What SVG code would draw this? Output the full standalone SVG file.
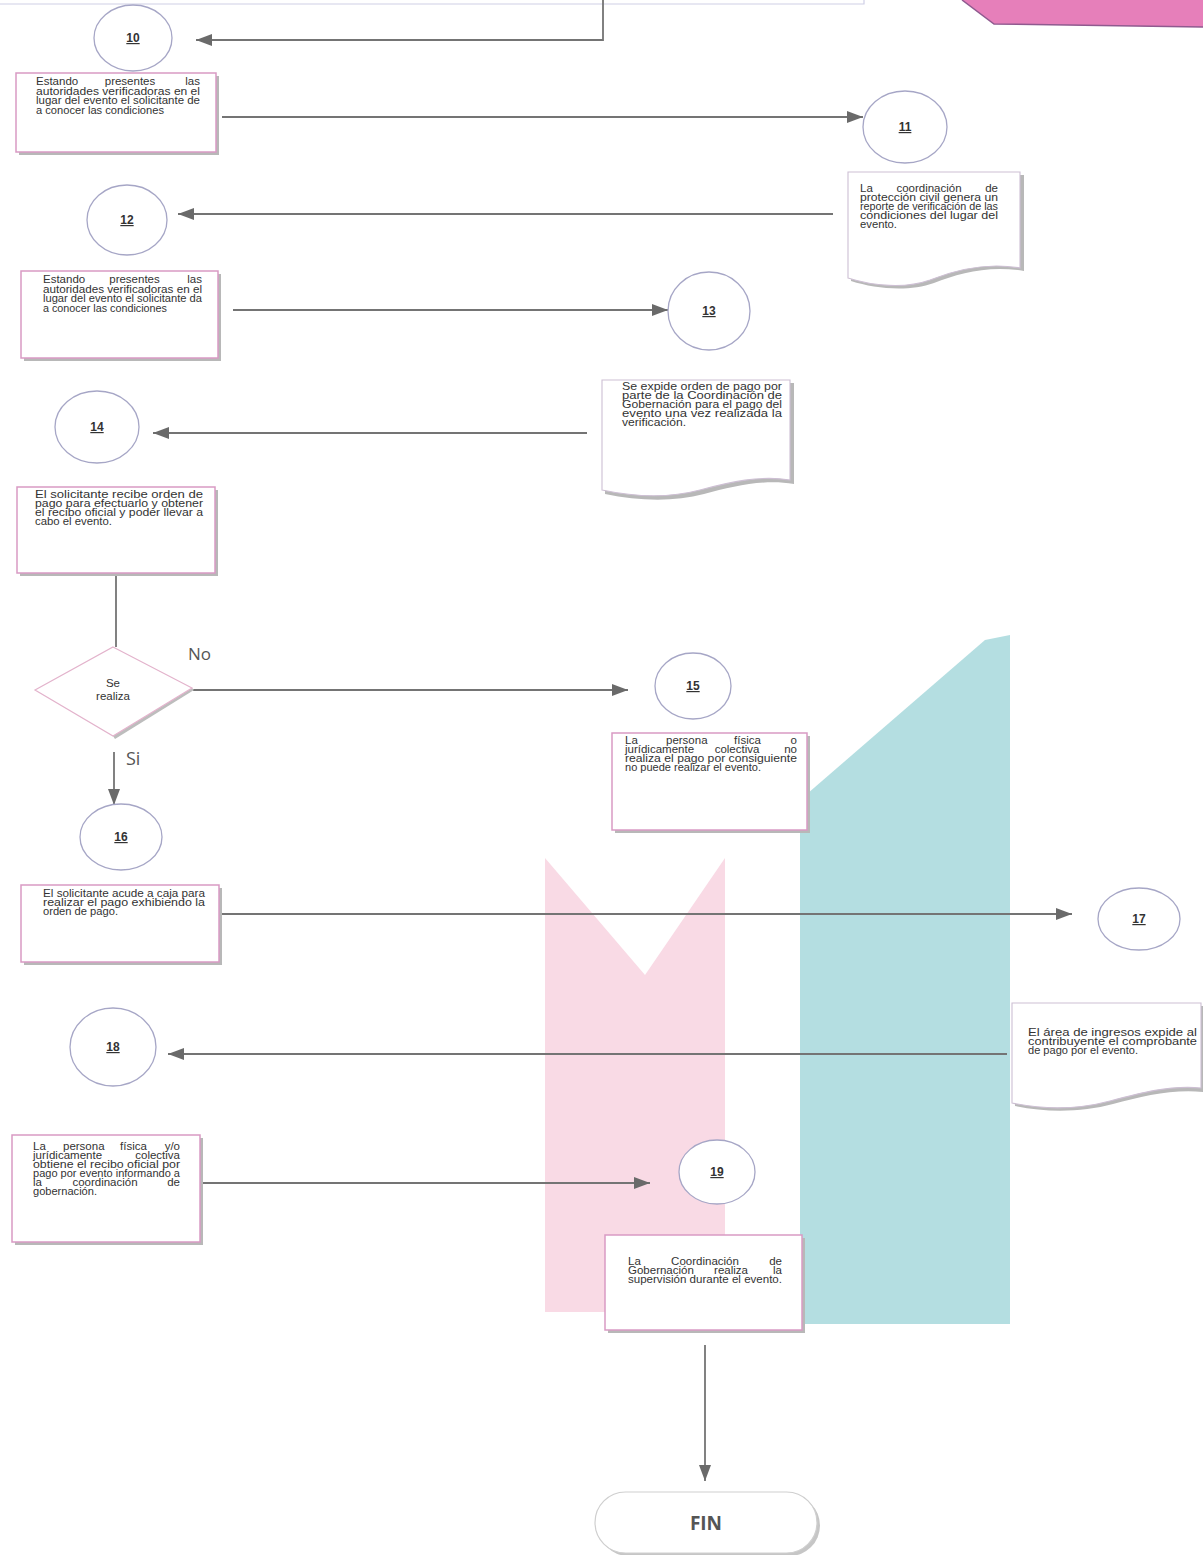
<svg xmlns="http://www.w3.org/2000/svg" width="1203" height="1555" viewBox="0 0 1203 1555">
  <defs>
    <style>
      .ln { fill: none; stroke: #747474; stroke-width: 1.8; }
      .box { fill: #fff; stroke: #d99ac4; stroke-width: 1.5; }
      .shd { fill: #b8b8b8; }
      .doc { fill: #fff; stroke: #cdbfd3; stroke-width: 1.1; }
      .circ { fill: #fff; stroke: #a6a6c6; stroke-width: 1.3; }
      .t { font-family: "Liberation Sans", Arial, sans-serif; font-size: 11.5px; fill: #333; }
      .m { text-anchor: middle; }
      .e { text-anchor: end; }
      .num { font-family: "Liberation Sans", Arial, sans-serif; font-size: 12px; font-weight: bold; fill: #333; text-decoration: underline; text-anchor: middle; }
      .lbl { font-family: "Open Sans", "Liberation Sans", sans-serif; fill: #555; }
    </style>
    <marker id="arr" markerUnits="userSpaceOnUse" viewBox="0 0 16 12" markerWidth="16" markerHeight="12" refX="16" refY="6" orient="auto">
      <path d="M0,0 L16,6 L0,12 Z" fill="#6a6a6a"/>
    </marker>
  </defs>

  <rect width="1203" height="1555" fill="#fff"/>

  <!-- background bands -->
  <polygon points="545,858 645,975 725,858 725,1312 545,1312" fill="#f9dae5"/>
  <polygon points="800,800 985,640 1010,635 1010,1324 800,1324" fill="#b4dee1"/>

  <!-- edge of the previous sheet and header tab -->
  <path d="M0,4 H864 V0" fill="none" stroke="#cfcfe6" stroke-width="1.2"/>
  <polygon points="962,0 994,24 1203,27 1203,0" fill="#e67fba"/>
  <polyline points="962,0 994,24 1203,27" fill="none" stroke="#8f5a8f" stroke-width="1.5"/>

  <!-- connectors -->
  <g id="connectors">
    <path class="ln" d="M603,0 V40 H196" marker-end="url(#arr)"/>
    <path class="ln" d="M222,117 H863" marker-end="url(#arr)"/>
    <path class="ln" d="M833,214 H178" marker-end="url(#arr)"/>
    <path class="ln" d="M233,310 H668" marker-end="url(#arr)"/>
    <path class="ln" d="M587,433 H153" marker-end="url(#arr)"/>
    <path class="ln" d="M116,573 V647"/>
    <path class="ln" d="M193,690 H628" marker-end="url(#arr)"/>
    <path class="ln" d="M114,752 V805" marker-end="url(#arr)"/>
    <path class="ln" d="M220,914 H1072" marker-end="url(#arr)"/>
    <path class="ln" d="M1007,1054 H168" marker-end="url(#arr)"/>
    <path class="ln" d="M202,1183 H650" marker-end="url(#arr)"/>
    <path class="ln" d="M705,1345 V1481" marker-end="url(#arr)"/>
    <text class="lbl" x="188" y="660" font-size="17">No</text>
    <text class="lbl" x="126" y="765" font-size="18">Si</text>
  </g>

  <!-- step 10 -->
  <g id="c10">
    <ellipse class="circ" cx="133" cy="38" rx="39" ry="33"/>
    <text class="num" x="133" y="42">10</text>
  </g>
  <g id="b10">
    <rect class="shd" x="19" y="76" width="200" height="79"/>
    <rect class="box" x="16" y="73" width="200" height="79"/>
    <text class="t" x="36" y="85">Estando</text>
    <text class="t m" x="130" y="85">presentes</text>
    <text class="t e" x="200" y="85">las</text>
    <text class="t" x="36" y="94.5" textLength="164" lengthAdjust="spacingAndGlyphs">autoridades verificadoras en el</text>
    <text class="t" x="36" y="104" textLength="164" lengthAdjust="spacingAndGlyphs">lugar del evento el solicitante de</text>
    <text class="t" x="36" y="113.5" textLength="128" lengthAdjust="spacingAndGlyphs">a conocer las condiciones</text>
  </g>

  <!-- step 11 -->
  <g id="c11">
    <ellipse class="circ" cx="905" cy="127" rx="42" ry="36"/>
    <text class="num" x="905" y="131">11</text>
  </g>
  <g id="d11">
    <path class="shd" d="M851,175 H1024 V271 C989,265 959,273 934,283 C909,292 876,289 851,281 Z"/>
    <path class="doc" d="M848,172 H1020 V268 C985,262 955,270 930,280 C905,289 873,286 848,278 Z"/>
    <text class="t" x="860" y="192">La</text>
    <text class="t m" x="929" y="192">coordinación</text>
    <text class="t e" x="998" y="192">de</text>
    <text class="t" x="860" y="201" textLength="138" lengthAdjust="spacingAndGlyphs">protección civil genera un</text>
    <text class="t" x="860" y="210" textLength="138" lengthAdjust="spacingAndGlyphs">reporte de verificación de las</text>
    <text class="t" x="860" y="219" textLength="138" lengthAdjust="spacingAndGlyphs">condiciones del lugar del</text>
    <text class="t" x="860" y="228" textLength="37" lengthAdjust="spacingAndGlyphs">evento.</text>
  </g>

  <!-- step 12 -->
  <g id="c12">
    <ellipse class="circ" cx="127" cy="220" rx="40" ry="35"/>
    <text class="num" x="127" y="224">12</text>
  </g>
  <g id="b12">
    <rect class="shd" x="24" y="274" width="197" height="87"/>
    <rect class="box" x="21" y="271" width="197" height="87"/>
    <text class="t" x="43" y="283">Estando</text>
    <text class="t m" x="134.5" y="283">presentes</text>
    <text class="t e" x="202" y="283">las</text>
    <text class="t" x="43" y="292.7" textLength="159" lengthAdjust="spacingAndGlyphs">autoridades verificadoras en el</text>
    <text class="t" x="43" y="302.4" textLength="159" lengthAdjust="spacingAndGlyphs">lugar del evento el solicitante da</text>
    <text class="t" x="43" y="312" textLength="124" lengthAdjust="spacingAndGlyphs">a conocer las condiciones</text>
  </g>

  <!-- step 13 -->
  <g id="c13">
    <ellipse class="circ" cx="709" cy="311" rx="41" ry="39"/>
    <text class="num" x="709" y="315">13</text>
  </g>
  <g id="d13">
    <path class="shd" d="M605,383 H794 V484 C764,479 734,486 704,494 C674,502 639,501 605,494 Z"/>
    <path class="doc" d="M602,380 H790 V480 C760,475 730,482 700,490 C670,498 635,497 602,490 Z"/>
    <text class="t" x="622" y="390" textLength="160" lengthAdjust="spacingAndGlyphs">Se expide orden de pago por</text>
    <text class="t" x="622" y="399" textLength="160" lengthAdjust="spacingAndGlyphs">parte de la Coordinación de</text>
    <text class="t" x="622" y="408" textLength="160" lengthAdjust="spacingAndGlyphs">Gobernación para el pago del</text>
    <text class="t" x="622" y="417" textLength="160" lengthAdjust="spacingAndGlyphs">evento una vez realizada la</text>
    <text class="t" x="622" y="426" textLength="64" lengthAdjust="spacingAndGlyphs">verificación.</text>
  </g>

  <!-- step 14 -->
  <g id="c14">
    <ellipse class="circ" cx="97" cy="427" rx="42" ry="36"/>
    <text class="num" x="97" y="431">14</text>
  </g>
  <g id="b14">
    <rect class="shd" x="20" y="490" width="198" height="86"/>
    <rect class="box" x="17" y="487" width="198" height="86"/>
    <text class="t" x="35" y="498" textLength="168" lengthAdjust="spacingAndGlyphs">El solicitante recibe orden de</text>
    <text class="t" x="35" y="507" textLength="168" lengthAdjust="spacingAndGlyphs">pago para efectuarlo y obtener</text>
    <text class="t" x="35" y="516" textLength="168" lengthAdjust="spacingAndGlyphs">el recibo oficial y poder llevar a</text>
    <text class="t" x="35" y="525" textLength="77" lengthAdjust="spacingAndGlyphs">cabo el evento.</text>
  </g>

  <!-- decision -->
  <g id="decision">
    <polygon points="194,690 115,739 113,736 192,688" fill="#bdbdbd"/>
    <polygon points="113,647 192,688 113,736 35,690" fill="#fff" stroke="#e3b3cc" stroke-width="1.2"/>
    <text class="t m" x="113" y="687" fill="#555" font-size="10.5">Se</text>
    <text class="t m" x="113" y="700" fill="#555" font-size="10.5">realiza</text>
  </g>

  <!-- step 15 -->
  <g id="c15">
    <ellipse class="circ" cx="693" cy="686" rx="38" ry="33"/>
    <text class="num" x="693" y="690">15</text>
  </g>
  <g id="b15">
    <rect class="shd" x="615" y="736" width="195" height="97"/>
    <rect class="box" x="612" y="733" width="195" height="97"/>
    <text class="t" x="625" y="744">La</text>
    <text class="t" x="666" y="744">persona</text>
    <text class="t" x="734" y="744">física</text>
    <text class="t e" x="797" y="744">o</text>
    <text class="t" x="625" y="753">jurídicamente</text>
    <text class="t m" x="737" y="753">colectiva</text>
    <text class="t e" x="797" y="753">no</text>
    <text class="t" x="625" y="762" textLength="172" lengthAdjust="spacingAndGlyphs">realiza el pago por consiguiente</text>
    <text class="t" x="625" y="771" textLength="136" lengthAdjust="spacingAndGlyphs">no puede realizar el evento.</text>
  </g>

  <!-- step 16 -->
  <g id="c16">
    <ellipse class="circ" cx="121" cy="837" rx="41" ry="33"/>
    <text class="num" x="121" y="841">16</text>
  </g>
  <g id="b16">
    <rect class="shd" x="24" y="888" width="198" height="77"/>
    <rect class="box" x="21" y="885" width="198" height="77"/>
    <text class="t" x="43" y="897" textLength="162" lengthAdjust="spacingAndGlyphs">El solicitante acude a caja para</text>
    <text class="t" x="43" y="906" textLength="162" lengthAdjust="spacingAndGlyphs">realizar el pago exhibiendo la</text>
    <text class="t" x="43" y="915" textLength="75" lengthAdjust="spacingAndGlyphs">orden de pago.</text>
  </g>

  <!-- step 17 -->
  <g id="c17">
    <ellipse class="circ" cx="1139" cy="919" rx="41" ry="31"/>
    <text class="num" x="1139" y="923">17</text>
  </g>
  <g id="d17">
    <path class="shd" d="M1015,1006 H1203 V1092 C1173,1089 1143,1096 1113,1104 C1083,1112 1048,1113 1015,1106 Z"/>
    <path class="doc" d="M1012,1003 H1201 V1088 C1170,1085 1140,1093 1110,1101 C1080,1109 1045,1110 1012,1103 Z"/>
    <text class="t" x="1028" y="1036" textLength="169" lengthAdjust="spacingAndGlyphs">El área de ingresos expide al</text>
    <text class="t" x="1028" y="1045" textLength="169" lengthAdjust="spacingAndGlyphs">contribuyente el comprobante</text>
    <text class="t" x="1028" y="1054" textLength="110" lengthAdjust="spacingAndGlyphs">de pago por el evento.</text>
  </g>

  <!-- step 18 -->
  <g id="c18">
    <ellipse class="circ" cx="113" cy="1047" rx="43" ry="39"/>
    <text class="num" x="113" y="1051">18</text>
  </g>
  <g id="b18">
    <rect class="shd" x="15" y="1138" width="188" height="107"/>
    <rect class="box" x="12" y="1135" width="188" height="107"/>
    <text class="t" x="33" y="1150">La</text>
    <text class="t" x="63" y="1150">persona</text>
    <text class="t" x="120" y="1150">física</text>
    <text class="t e" x="180" y="1150">y/o</text>
    <text class="t" x="33" y="1159">jurídicamente</text>
    <text class="t e" x="180" y="1159">colectiva</text>
    <text class="t" x="33" y="1168" textLength="147" lengthAdjust="spacingAndGlyphs">obtiene el recibo oficial por</text>
    <text class="t" x="33" y="1177" textLength="147" lengthAdjust="spacingAndGlyphs">pago por evento informando a</text>
    <text class="t" x="33" y="1186">la</text>
    <text class="t m" x="105" y="1186">coordinación</text>
    <text class="t e" x="180" y="1186">de</text>
    <text class="t" x="33" y="1195" textLength="64" lengthAdjust="spacingAndGlyphs">gobernación.</text>
  </g>

  <!-- step 19 -->
  <g id="c19">
    <ellipse class="circ" cx="717" cy="1172" rx="38" ry="32"/>
    <text class="num" x="717" y="1176">19</text>
  </g>
  <g id="b19">
    <rect class="shd" x="608" y="1238" width="197" height="95"/>
    <rect class="box" x="605" y="1235" width="197" height="95"/>
    <text class="t" x="628" y="1265">La</text>
    <text class="t m" x="705" y="1265">Coordinación</text>
    <text class="t e" x="782" y="1265">de</text>
    <text class="t" x="628" y="1274">Gobernación</text>
    <text class="t m" x="731" y="1274">realiza</text>
    <text class="t e" x="782" y="1274">la</text>
    <text class="t" x="628" y="1283" textLength="154" lengthAdjust="spacingAndGlyphs">supervisión durante el evento.</text>
  </g>

  <!-- end terminal -->
  <g id="fin">
    <rect class="shd" x="598" y="1495" width="222" height="61" rx="30.5" opacity="0.8"/>
    <rect x="595" y="1492" width="222" height="61" rx="30.5" fill="#fff" stroke="#cfcfcf" stroke-width="1.2"/>
    <text class="lbl" x="706" y="1530" font-size="19" font-weight="bold" text-anchor="middle">FIN</text>
  </g>
</svg>
